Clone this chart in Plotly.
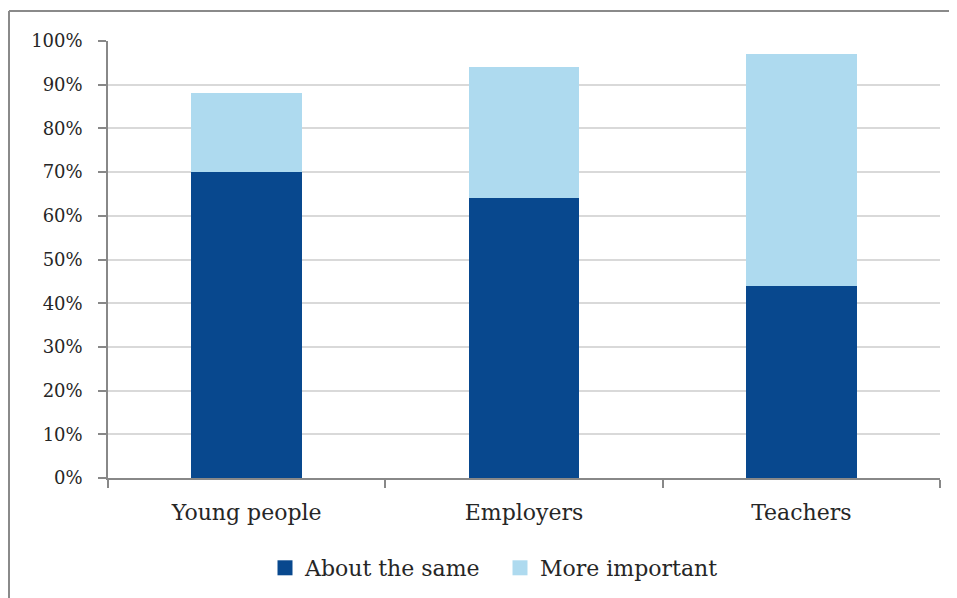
import plotly.graph_objects as go

categories = ["Young people", "Employers", "Teachers"]
about_same = [0.70, 0.64, 0.44]
more_important = [0.18, 0.30, 0.53]
series_names = ["About the same", "More important"]
y_ticks = [i / 10 for i in range(11)]
y_tick_labels = [f"{i*10}%" for i in range(11)]

FONT = "DejaVu Serif"
TXT = "#262626"
DARK = "#08488E"
LIGHT = "#AEDAEF"

OFF = 8  # page body margin
W, H = 957 - OFF, 598 - OFF
L, R, T, B = 108 - OFF, 17, 41 - OFF, 120
pw, ph = W - L - R, H - T - B

def px_x(x):
    return (x - OFF - L) / pw

def px_y(y):
    return (H - B - (y - OFF)) / ph

fig = go.Figure()
fig.add_trace(go.Bar(x=categories, y=about_same, name=series_names[0],
                     marker=dict(color=DARK, line=dict(width=0)), showlegend=False))
fig.add_trace(go.Bar(x=categories, y=more_important, name=series_names[1],
                     marker=dict(color=LIGHT, line=dict(width=0)), showlegend=False))
for nm, col in zip(series_names, [DARK, LIGHT]):
    fig.add_trace(go.Scatter(x=[None], y=[None], mode="markers", name=nm,
                             marker=dict(symbol="square", size=15, color=col)))

fig.update_layout(
    width=W, height=H,
    barmode="stack", bargap=0.6,
    paper_bgcolor="white", plot_bgcolor="white",
    margin=dict(l=L, r=R, t=T, b=B, autoexpand=False),
    font=dict(family=FONT, color=TXT, size=18),
    showlegend=True,
    legend=dict(orientation="h", xref="container", yref="container",
                x=(265 - OFF) / W, xanchor="left", y=1 - (568 - OFF) / H, yanchor="middle",
                font=dict(family=FONT, size=22, color=TXT),
                itemwidth=30, entrywidth=190, entrywidthmode="pixels",
                tracegroupgap=0, traceorder="normal"),
    shapes=[
        dict(type="line", xref="paper", yref="paper",
             x0=px_x(9), x1=px_x(960), y0=px_y(11), y1=px_y(11),
             line=dict(color="#8a8a8a", width=2)),
        dict(type="line", xref="paper", yref="paper",
             x0=px_x(9), x1=px_x(9), y0=px_y(11), y1=px_y(602),
             line=dict(color="#8a8a8a", width=2)),
    ],
)
fig.update_yaxes(range=[0, 1], tickvals=y_ticks, ticktext=y_tick_labels,
                 showgrid=True, gridcolor="#d9d9d9", gridwidth=1.5,
                 showline=True, linecolor="#888888", linewidth=1.5,
                 ticks="outside", ticklen=8, tickcolor="#888888", tickwidth=1.5,
                 ticklabelstandoff=12, zeroline=False,
                 tickfont=dict(family=FONT, size=18, color=TXT))
fig.update_xaxes(range=[-0.5, 2.5], showgrid=False,
                 showline=True, linecolor="#888888", linewidth=1.5,
                 ticks="outside", ticklen=8, tickcolor="#888888", tickwidth=1.5,
                 tickson="boundaries", ticklabelstandoff=14,
                 tickfont=dict(family=FONT, size=22, color=TXT))

fig.write_html("out.html")
